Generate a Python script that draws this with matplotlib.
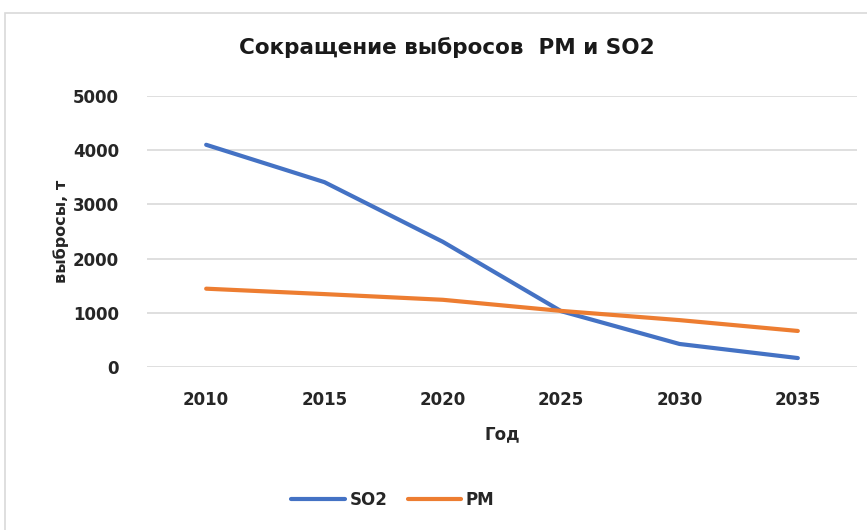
import matplotlib.pyplot as plt
from matplotlib.patches import Rectangle

years = ["2010", "2015", "2020", "2025", "2030", "2035"]
so2 = [4100, 3410, 2310, 1030, 425, 165]
pm = [1445, 1345, 1240, 1035, 865, 665]
yticks = [0, 1000, 2000, 3000, 4000, 5000]

plt.rcParams['font.family'] = ['DejaVu Sans']

fig = plt.figure(figsize=(8.67, 5.3), dpi=100)

# chart frame (light grey border like Excel)
fig.patches.append(Rectangle((5 / 867, -0.1), 1.1, 1 - 13 / 530 + 0.1,
                             transform=fig.transFigure, fill=False,
                             edgecolor="#D9D9D9", linewidth=1.2))

ax = fig.add_axes([147 / 867, 1 - 367 / 530, 710 / 867, 271 / 530])

x = range(len(years))
ax.plot(x, so2, color="#4472C4", linewidth=3, label="SO2", solid_capstyle="round")
ax.plot(x, pm, color="#ED7D31", linewidth=3, label="PM", solid_capstyle="round")

ax.set_xlim(-0.5, len(years) - 0.5)
ax.set_ylim(0, 5000)
ax.set_xticks(list(x))
ax.set_xticklabels(years)
ax.set_yticks(yticks)
ax.yaxis.grid(True, color="#D9D9D9", linewidth=1.2)
ax.set_axisbelow(True)
for s in ax.spines.values():
    s.set_visible(False)
ax.tick_params(length=0, labelsize=12, labelcolor="#262626")
ax.tick_params(axis="x", pad=17)
ax.tick_params(axis="y", pad=20)
for lab in ax.get_xticklabels() + ax.get_yticklabels():
    lab.set_fontweight("bold")

ax.set_xlabel("Год", fontsize=12, fontweight="bold", color="#262626", labelpad=12)
ax.yaxis.set_label_coords(-0.11, 0.47)
ax.set_ylabel("выбросы, т", fontsize=11.5, fontweight="bold", color="#262626")

fig.text(447 / 867, 1 - 48 / 530, "Сокращение выбросов  PM и SO2",
         ha="center", va="center", fontsize=15.5, fontweight="bold", color="#1a1a1a")

leg = fig.legend(loc="center", bbox_to_anchor=(393 / 867, 1 - 500 / 530), ncol=2,
                 frameon=False, prop={"weight": "bold", "size": 12},
                 handlelength=3.2, columnspacing=1.2, handletextpad=0.3)
for t in leg.get_texts():
    t.set_color("#262626")

fig.savefig("out.png", dpi=100)
